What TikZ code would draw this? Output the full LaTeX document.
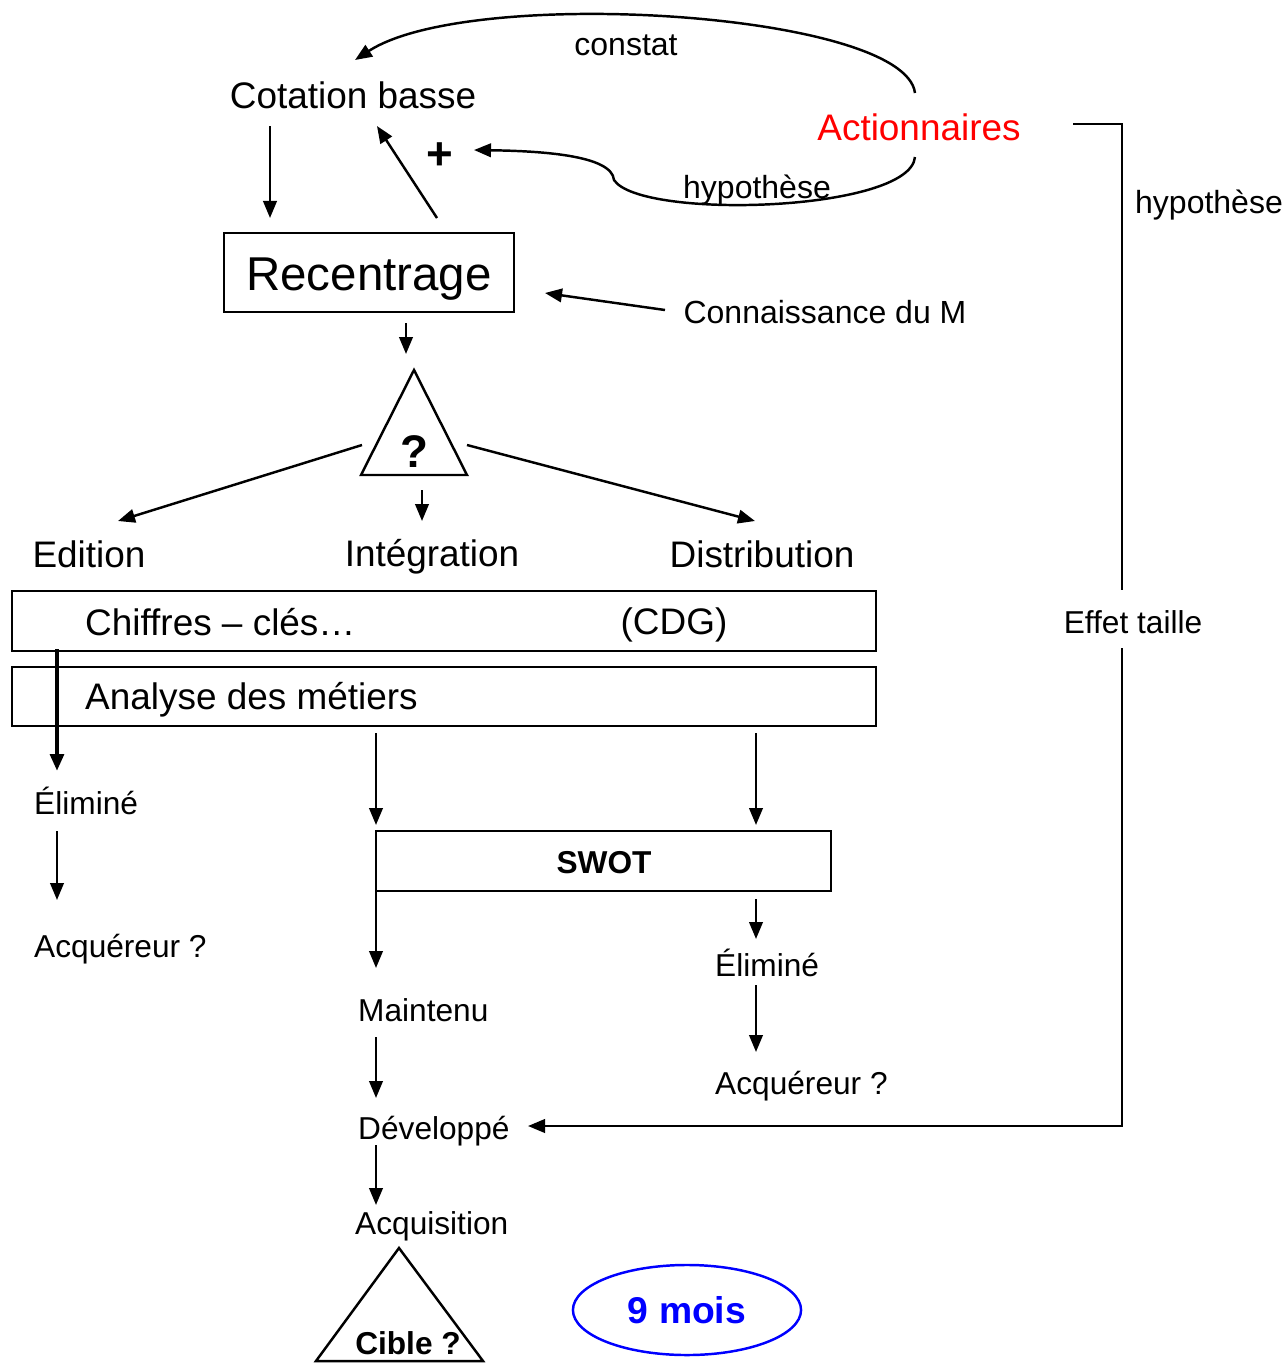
\documentclass[tikz,border=0pt]{standalone}
\usepackage{fontspec}
\setmainfont{Liberation Sans}
\usetikzlibrary{arrows.meta,shapes.geometric}
\newcommand{\fs}[1]{\fontsize{#1}{#1}\selectfont}

\begin{document}
\begin{tikzpicture}[x=0.01cm,y=-0.01cm,>={Triangle[length=1.7mm,width=1.35mm]},line width=0.7pt,
    lbl/.style={inner sep=0pt},
    boite/.style={draw,inner sep=0pt}]
\useasboundingbox (0,0) rectangle (1288,1363);
% haut
\node[lbl] (constat) at (626,45) {\fs{9.1}constat};
\node[lbl] (cot) at (353,95) {\fs{10.5}Cotation basse};
\node[lbl,text=red] (act) at (919,127) {\fs{10.5}Actionnaires};
\node[lbl] (plus) at (440,156) {\fs{13}\bfseries +};
\node[lbl] (hyp1) at (757,190) {\fs{9.1}hypothèse};
\node[lbl] (hyp2) at (1209,205) {\fs{9.1}hypothèse};
\node[boite,minimum width=2.9cm,minimum height=0.79cm] (rec) at (369,272.5) {};
\node[lbl] (rectxt) at (369,279) {\fs{13.5}Recentrage};
\node[lbl] (conn) at (825,312) {\fs{9.1}Connaissance du M};
% triangle
\coordinate (t1) at (414,370); \coordinate (t2) at (467,475); \coordinate (t3) at (361,475);
\draw (t1) -- (t2) -- (t3) -- cycle;
\node[lbl] (q) at (414,452) {\fs{13}\bfseries ?};
\node[lbl] (edi) at (89,554) {\fs{10.5}Edition};
\node[lbl] (integ) at (432,557) {\fs{10.5}Intégration};
\node[lbl] (distr) at (762,554) {\fs{10.5}Distribution};
% bandes
\node[boite,minimum width=8.64cm,minimum height=0.6cm] (chbox) at (444,621) {};
\node[lbl,anchor=west] (chtxt) at (84,622) {\fs{10.5}Chiffres -- clés…};
\node[lbl] (cdg) at (674,625) {\fs{10.5}(CDG)};
\node[boite,minimum width=8.64cm,minimum height=0.59cm] (anbox) at (444,696.5) {};
\node[lbl,anchor=west] (antxt) at (84,700) {\fs{10.5}Analyse des métiers};
% gauche
\node[lbl,anchor=west] (elim1) at (33,801) {\fs{9}Éliminé};
\node[lbl,anchor=west] (acq1) at (33,949) {\fs{9}Acquéreur ?};
% swot
\node[boite,minimum width=4.55cm,minimum height=0.6cm] (swot) at (603.5,861) {};
\node[lbl] (swtxt) at (604,863) {\fs{9}\bfseries SWOT};
\node[lbl,anchor=west] (maint) at (357,1010) {\fs{9}Maintenu};
\node[lbl,anchor=west] (elim2) at (714,963) {\fs{9}Éliminé};
\node[lbl,anchor=west] (acq2) at (714,1086) {\fs{9}Acquéreur ?};
\node[lbl,anchor=west] (dev) at (357,1131) {\fs{9}Développé};
\node[lbl,anchor=west] (acqui) at (354,1226) {\fs{9}Acquisition};
\node[lbl] (effet) at (1133,622) {\fs{9}Effet taille};
% bas
\coordinate (c1) at (399,1248); \coordinate (c2) at (483,1361); \coordinate (c3) at (316,1361);
\draw (c1) -- (c2) -- (c3) -- cycle;
\node[lbl] (cible) at (408,1343) {\fs{9}\bfseries Cible ?};
\node[ellipse,draw=blue,text=blue,minimum width=2.28cm,minimum height=0.9cm,inner sep=0pt] (mois) at (687,1310) {\fs{10.6}\bfseries 9 mois};

% fleches
\coordinate (a1) at (915,93); \coordinate (a2) at (355,60);
\draw[->] (a1) .. controls (905,12) and (470,-15) .. (a2);
\coordinate (b1) at (915,157); \coordinate (b2) at (614,180); \coordinate (b3) at (474,150);
\draw[->] (b1) .. controls (910,212) and (640,220) .. (b2) .. controls (612,155) and (540,151) .. (b3);
\draw[->] (270,126) coordinate (d1) -- (270,218) coordinate (d2);
\draw[->] (437,218) coordinate (u1) -- (377,126) coordinate (u2);
\draw[->] (665,310) coordinate (k1) -- (545,293) coordinate (k2);
\draw[->] (406,323) coordinate (r1) -- (406,354) coordinate (r2);
\draw[->] (362,445) coordinate (s1) -- (118,521) coordinate (s2);
\draw[->] (422,490) coordinate (s3) -- (422,521) coordinate (s4);
\draw[->] (467,445) coordinate (s5) -- (755,521) coordinate (s6);
\draw[->,line width=1.3pt] (57,649) coordinate (e1) -- (57,771) coordinate (e2);
\draw[->] (57,831) coordinate (e3) -- (57,900) coordinate (e4);
\draw[->] (376,733) coordinate (m1) -- (376,825) coordinate (m2);
\draw[->] (756,733) coordinate (m3) -- (756,825) coordinate (m4);
\draw[->] (376,891) coordinate (m5) -- (376,968) coordinate (m6);
\draw[->] (756,899) coordinate (n1) -- (756,939) coordinate (n2);
\draw[->] (756,985) coordinate (n3) -- (756,1052) coordinate (n4);
\draw[->] (376,1037) coordinate (p1) -- (376,1098) coordinate (p2);
\draw[->] (376,1145) coordinate (p3) -- (376,1205) coordinate (p4);
% crochet droit
\draw (1073,124) coordinate (h1) -| (1122,590) coordinate (h2);
\draw[->] (1122,648) coordinate (h3) |- (528,1126) coordinate (h4);
\end{tikzpicture}
\end{document}
